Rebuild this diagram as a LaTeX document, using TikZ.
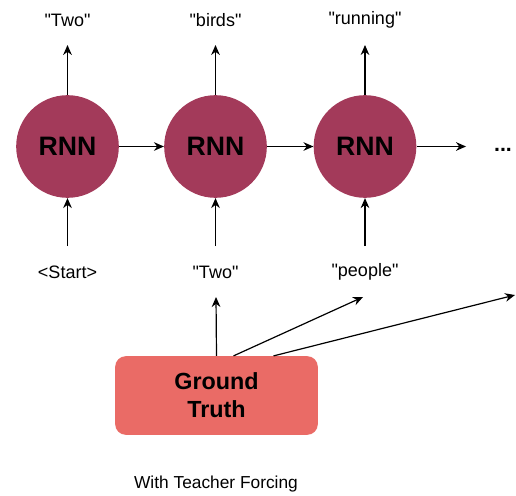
\documentclass[tikz,border=0pt]{standalone}
\usepackage{fontspec}
\setmainfont{Liberation Sans}[Ligatures=TeXOff]
\usetikzlibrary{arrows.meta}
\definecolor{rnnred}{HTML}{A33A5A}
\definecolor{gtred}{HTML}{EA6B66}
\begin{document}
\begin{tikzpicture}[x=0.75pt,y=-0.75pt,
  rnn/.style={circle,fill=rnnred,minimum size=77pt,inner sep=0pt,font=\fontsize{20}{24}\selectfont\bfseries},
  lbl/.style={font=\fontsize{13.5}{16}\selectfont,inner sep=0pt},
  arr/.style={-{Stealth[length=7.5pt,width=6.5pt]},line width=0.9pt}]
\useasboundingbox (0,0) rectangle (516,495);
\node[rnn] (r1) at (67.5,146.5) {RNN};
\node[rnn] (r2) at (215.5,146.5) {RNN};
\node[rnn] (r3) at (365,146.5) {RNN};
\node[lbl] (o1) at (67.5,20) {"Two"};
\node[lbl] (o2) at (215.5,20) {"birds"};
\node[lbl] (o3) at (365,20) {"running"};
\coordinate (t1) at (67.5,45);
\coordinate (t2) at (215.5,45);
\coordinate (t3) at (365,45);
\draw[arr] (r1.north) -- (t1);
\draw[arr] (r2.north) -- (t2);
\draw[arr] (r3.north) -- (t3);
\draw[arr] (r1.east) -- (r2.west);
\draw[arr] (r2.east) -- (r3.west);
\coordinate (h4) at (466,146.5);
\draw[arr] (r3.east) -- (h4);
\node[lbl,font=\fontsize{16}{18}\selectfont\bfseries] (dots) at (503,150) {...};
\coordinate (b1) at (67.5,246);
\coordinate (b2) at (215.5,246);
\coordinate (b3) at (365,246);
\draw[arr] (b1) -- (r1.south);
\draw[arr] (b2) -- (r2.south);
\draw[arr] (b3) -- (r3.south);
\node[lbl] (i1) at (67.5,272) {<Start>};
\node[lbl] (i2) at (215.5,272) {"Two"};
\node[lbl] (i3) at (365,272) {"people"};
\node[draw=none,fill=gtred,rounded corners=8pt,minimum width=152pt,minimum height=59pt,align=center,
  font=\fontsize{17.5}{21}\selectfont\bfseries] (gt) at (216.5,395.5) {Ground\\Truth};
\coordinate (g1) at (216,297);
\coordinate (g2) at (363,297);
\coordinate (g3) at (515,295);
\draw[arr] (gt.north) -- (g1);
\draw[arr] ([xshift=12.75pt]gt.north) -- (g2);
\draw[arr] ([xshift=42.75pt]gt.north) -- (g3);
\node[lbl,font=\fontsize{13}{16}\selectfont] (cap) at (216,484) {With Teacher Forcing};
\end{tikzpicture}
\end{document}
